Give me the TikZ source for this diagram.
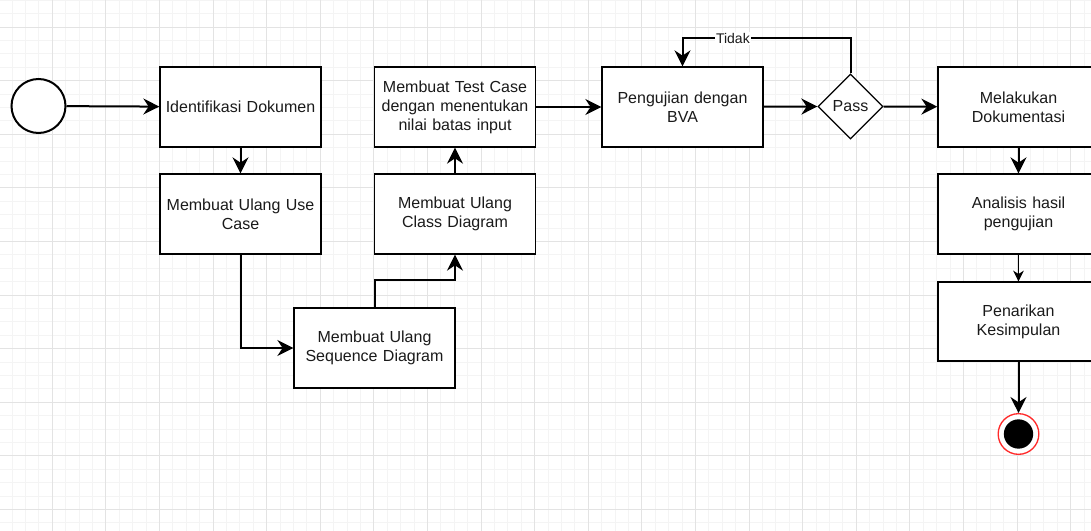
\documentclass[tikz,border=0pt]{standalone}
\usepackage{fontspec}
\setmainfont{Liberation Sans}
\usetikzlibrary{arrows.meta,shapes.geometric,calc}
\definecolor{gridmajor}{HTML}{E3E3E3}
\definecolor{gridminor}{HTML}{F4F4F4}
\definecolor{endred}{HTML}{FF2A2A}
\definecolor{labeltext}{HTML}{1A1A1A}
\begin{document}
\begin{tikzpicture}[x=0.75pt,y=-0.75pt,
  every node/.style={font=\fontsize{12pt}{14.2pt}\selectfont,text=labeltext},
  box/.style={draw=black,line width=1pt,fill=white,minimum width=120.75pt,
    minimum height=60pt,inner sep=2pt,align=center,text width=114pt},
  decision/.style={draw=black,line width=1pt,fill=white,diamond,aspect=1,
    minimum width=48.75pt,minimum height=48.75pt,inner sep=0pt},
  flow/.style={line width=1.5pt,-{Stealth[length=12pt,width=12pt,inset=4pt]}},
  thinflow/.style={line width=0.75pt,-{Stealth[length=8pt,width=8pt,inset=2.5pt]}},
  edgelabel/.style={fill=white,inner sep=1pt,font=\fontsize{10.5pt}{12pt}\selectfont}]
\useasboundingbox (0,0) rectangle (1091,531);
\fill[white] (0,0) rectangle (1091,531);
% background grid
\begin{scope}
\clip (0,0) rectangle (1091,531);
\foreach \i in {0,...,82} {
  \draw[gridminor,line width=0.75pt] ({12.1+13.4*(\i-1)},0) -- ++(0,531);
}
\foreach \j in {0,...,40} {
  \draw[gridminor,line width=0.75pt] (0,{0.3+13.4*\j}) -- ++(1091,0);
}
\foreach \i in {0,...,20} {
  \draw[gridmajor,line width=0.75pt] ({52.3+53.6*(\i-1)},0) -- ++(0,531);
}
\foreach \j in {0,...,10} {
  \draw[gridmajor,line width=0.75pt] (0,{27.1+53.6*\j}) -- ++(1091,0);
}
\end{scope}

% start and end states
\node[circle,draw=black,line width=1.5pt,fill=white,minimum size=40.5pt,inner sep=0pt] (start) at (38.5,106) {};
\node[circle,draw=endred,line width=1pt,fill=white,minimum size=30.5pt,inner sep=0pt] (end) at (1018.5,434) {};
\node[circle,fill=black,minimum size=22pt,inner sep=0pt] (endcore) at (1018.5,434) {};

% activities
\node[box] (ident) at (240.5,107) {Identifikasi Dokumen};
\node[box] (usecase) at (240.5,214) {Membuat Ulang Use\\Case};
\node[box] (seq) at (374.5,348) {Membuat Ulang\\Sequence Diagram};
\node[box] (class) at (455,214) {Membuat Ulang\\Class Diagram};
\node[box] (testcase) at (455,107) {Membuat Test Case\\dengan menentukan\\nilai batas input};
\node[box] (bva) at (682.5,107) {Pengujian dengan\\BVA};
\node[decision] (pass) at (850.5,106.5) {Pass};
\node[box] (doc) at (1018.5,107) {Melakukan\\Dokumentasi};
\node[box] (anal) at (1018.5,214) {Analisis hasil\\pengujian};
\node[box,minimum height=59.25pt] (conc) at (1018.5,321.5) {Penarikan\\Kesimpulan};

% connectors
\draw[flow] (start) -- (ident);
\draw[flow] (ident) -- (usecase);
\draw[flow] (usecase.south) |- (seq.west);
\draw[flow] (seq.north) -- ++(0,-27) -| (class.south);
\draw[flow] (class) -- (testcase);
\draw[flow] (testcase) -- (bva);
\draw[flow] (bva) -- (pass.west);
\draw[flow] (pass.north) -- ++(0,-35) -| (bva.north)
  node[edgelabel,pos=0.35] {Tidak};
\draw[flow] (pass.east) -- (doc);
\draw[flow] (doc) -- (anal);
\draw[thinflow] (anal) -- (conc);
\draw[flow] (conc) -- (end);
\end{tikzpicture}
\end{document}
